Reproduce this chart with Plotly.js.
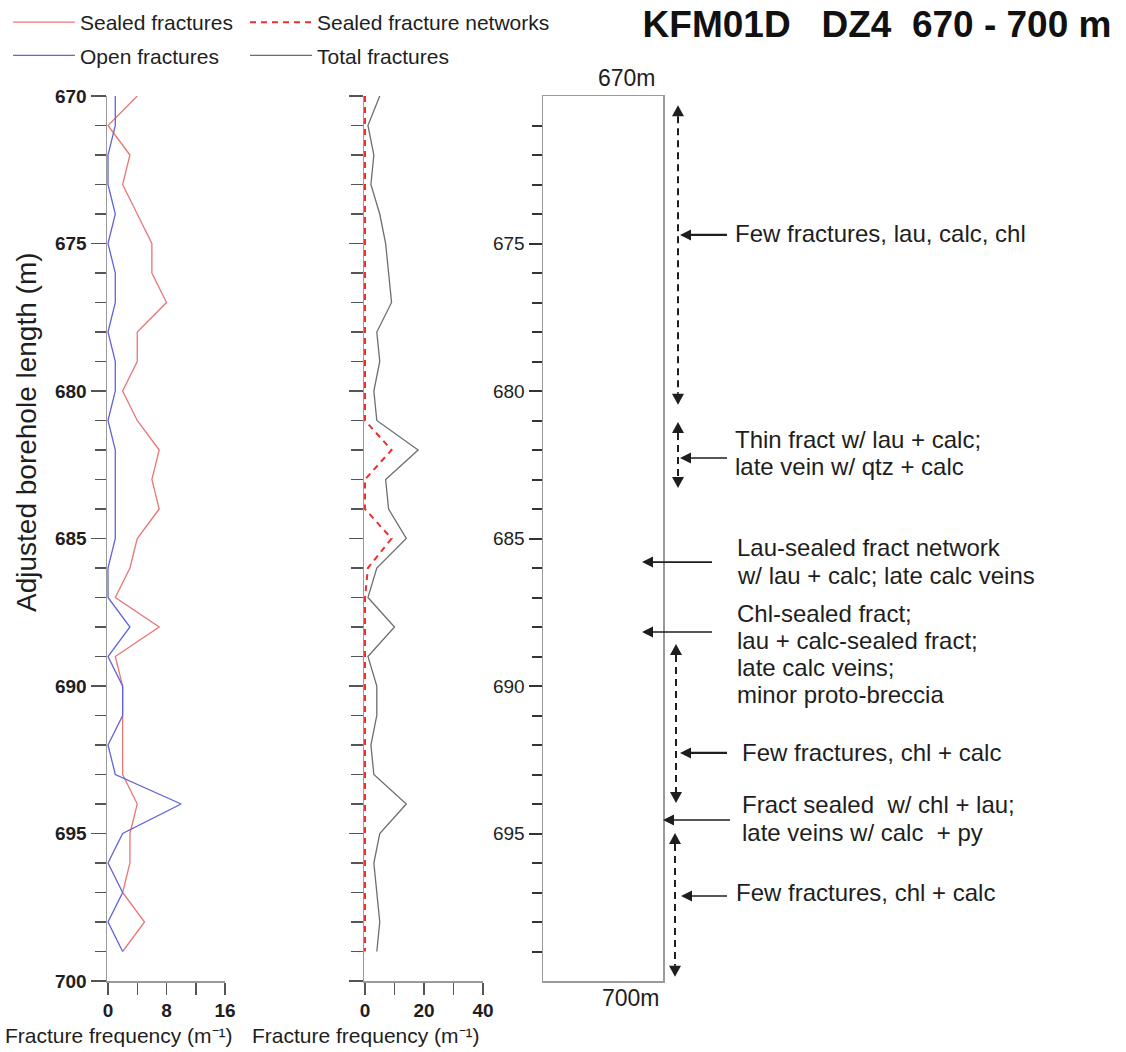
<!DOCTYPE html>
<html><head><meta charset="utf-8">
<script src="https://cdn.plot.ly/plotly-3.0.1.min.js"></script>
<style>html,body{margin:0;padding:0;background:#fff}#chart{width:1126px;height:1052px}</style>
</head><body><div id="chart"></div>
<script>
// ---- data ----
const depths = [670,671,672,673,674,675,676,677,678,679,680,681,682,683,684,685,686,687,688,689,690,691,692,693,694,695,696,697,698,699];
const sealedFractures = [4,0,3,2,4,6,6,8,4,4,2,4,7,6,7,4,3,1,7,1,2,2,2,2,4,3,3,2,5,2];
const openFractures   = [1,1,0,0,1,0,1,1,0,1,1,0,1,1,1,1,0,0,3,0,2,2,0,1,10,2,0,2,0,2];
const sealedNetworks  = [0,0,0,0,0,0,0,0,0,0,0,0,9,0,0,9,1,0,0,0,0,0,0,0,0,0,0,0,0,0];
const totalFractures  = [5,1,3,2,5,7,8,9,4,5,3,4,18,7,8,14,4,1,10,1,4,4,2,3,14,5,3,4,5,4];

const leftTickVals = [0,8,16];
const leftMinorTicks = [4,12];
const midTickVals = [0,20,40];
const midMinorTicks = [10,30];
const logTickVals = [675,680,685,690,695];

// interpretation column: one entry per printed line
const noteLines = [
  'Few fractures, lau, calc, chl',
  'Thin fract w/ lau + calc;', 'late vein w/ qtz + calc',
  'Lau-sealed fract network', 'w/ lau + calc; late calc veins',
  'Chl-sealed fract;', 'lau + calc-sealed fract;', 'late calc veins;', 'minor proto-breccia',
  'Few fractures, chl + calc',
  'Fract sealed\u00a0 w/ chl + lau;', 'late veins w/ calc\u00a0 + py',
  'Few fractures, chl + calc'
];
const noteLineDepths = [674.65, 681.65, 682.57, 685.32, 686.24, 687.54, 688.45, 689.37, 690.29,
                        692.24, 694.03, 694.95, 696.99];
const noteLineX = [735, 735, 735, 737, 737, 737, 737, 737, 737, 742, 742, 742, 736];
// pointer arrows (depth they point at)
const arrowDepths = [674.71, 682.27, 685.80, 688.17, 692.27, 694.54, 697.12];
// dashed depth-interval arrows
const rangeTops    = [670.31, 681.05, 688.58, 694.98];
const rangeBottoms = [680.47, 683.29, 693.97, 699.86];

// ---- layout helpers (pixel -> paper) ----
const W = 1126, H = 1052;
const PX = p => p / W;
const PY = p => 1 - p / H;
const yDom = [PY(981), PY(96)];
const PX_PER_M = 885 / 30;
const FONT = 'Liberation Sans, Arial, sans-serif';
const INK = '#1e1e1e';

const traces = [
  {x: sealedFractures, y: depths, xaxis:'x', yaxis:'y', type:'scatter', mode:'lines',
   name:'Sealed fractures', legend:'legend', legendgroup:'a', line:{color:'rgb(232,118,118)', width:1.3}},
  {x: openFractures, y: depths, xaxis:'x', yaxis:'y', type:'scatter', mode:'lines',
   name:'Open fractures', legend:'legend', legendgroup:'b', line:{color:'rgb(98,98,222)', width:1.3}},
  {x: sealedNetworks, y: depths, xaxis:'x2', yaxis:'y2', type:'scatter', mode:'lines',
   name:'Sealed fracture networks', legend:'legend2', legendgroup:'c', line:{color:'rgb(236,48,44)', width:2, dash:'6px,5px'}},
  {x: totalFractures, y: depths, xaxis:'x2', yaxis:'y2', type:'scatter', mode:'lines',
   name:'Total fractures', legend:'legend2', legendgroup:'d', line:{color:'#6e6e6e', width:1.3}},
  {x: [], y: [], xaxis:'x3', yaxis:'y3', type:'scatter', mode:'lines', showlegend:false, hoverinfo:'skip'}
];

const depthAxisBase = {
  range:[700,670], autorange:false, showgrid:false, zeroline:false,
  showline:true, linecolor:'#9a9a9a', linewidth:1.5, layer:'below traces',
  ticks:'outside', tickcolor:'#555', tickwidth:1.5
};
const freqAxisBase = {
  autorange:false, showgrid:false, zeroline:false, showline:true,
  linecolor:'#9a9a9a', linewidth:1.5, ticks:'outside', ticklen:12, layer:'below traces',
  tickcolor:'#555', tickwidth:1.5, tickmode:'array',
  tickfont:{family:FONT, size:19, color:INK, weight:700}
};

const minorLog = [];
for (let d = 671; d < 700; d++) if (d % 5 !== 0) minorLog.push(d);

const legendBase = {orientation:'v', xanchor:'left', yanchor:'top', tracegroupgap:3,
  font:{family:FONT, size:21, color:INK}, itemwidth:62, bgcolor:'rgba(0,0,0,0)', borderwidth:0};

// the axes start one pixel left of zero so that lines lying on zero are not clipped
const leftPxPerUnit = 117 / 16, midPxPerUnit = 118 / 40;

const layout = {
  width: W, height: H,
  margin:{l:0, r:0, t:0, b:0},
  paper_bgcolor:'#fff', plot_bgcolor:'rgba(0,0,0,0)',
  font:{family:FONT, color:INK},
  title:{text:'KFM01D\u00a0\u00a0\u00a0DZ4\u00a0\u00a0670 - 700 m', x:PX(877), xanchor:'center',
         y:PY(24), yanchor:'middle', font:{family:FONT, size:37, color:'#111', weight:700}},
  showlegend:true,
  legend: Object.assign({}, legendBase, {x:PX(8), y:PY(2)}),
  legend2: Object.assign({}, legendBase, {x:PX(245), y:PY(2)}),
  xaxis: Object.assign({}, freqAxisBase, {domain:[PX(107), PX(225)], range:[-1 / leftPxPerUnit, 16], anchor:'y',
          tickvals:leftTickVals,
          minor:{tickmode:'array', tickvals:leftMinorTicks, ticks:'outside', ticklen:12, tickcolor:'#555', tickwidth:1.5}}),
  yaxis: Object.assign({}, depthAxisBase, {domain:yDom, anchor:'x', tick0:670, dtick:5, ticklen:15,
          tickfont:{family:FONT, size:19, color:INK, weight:700},
          minor:{dtick:1, tick0:670, ticks:'outside', ticklen:11, tickcolor:'#555', tickwidth:1.5}}),
  xaxis2: Object.assign({}, freqAxisBase, {domain:[PX(364), PX(483)], range:[-1 / midPxPerUnit, 40], anchor:'y2',
          tickvals:midTickVals,
          minor:{tickmode:'array', tickvals:midMinorTicks, ticks:'outside', ticklen:12, tickcolor:'#555', tickwidth:1.5}}),
  yaxis2: Object.assign({}, depthAxisBase, {domain:yDom, anchor:'x2', tick0:670, dtick:5, ticklen:14,
          showticklabels:false,
          minor:{dtick:1, tick0:670, ticks:'outside', ticklen:12, tickcolor:'#555', tickwidth:1.5}}),
  xaxis3: {domain:[PX(543), PX(663)], range:[0,1], anchor:'y3', showgrid:false, zeroline:false,
          showline:true, mirror:true, linecolor:'#9a9a9a', linewidth:1.5, ticks:'', showticklabels:false},
  yaxis3: {domain:yDom, anchor:'x3', range:[700,670], autorange:false, showgrid:false, zeroline:false,
          showline:true, mirror:true, linecolor:'#9a9a9a', linewidth:1.5,
          tickmode:'array', tickvals:logTickVals, ticks:'outside', ticklen:13, tickwidth:2, tickcolor:'#333',
          tickfont:{family:FONT, size:19, color:INK},
          minor:{tickmode:'array', tickvals:minorLog, ticks:'outside', ticklen:10, tickwidth:2, tickcolor:'#333'}},
  annotations: [],
  shapes: []
};

const ann = layout.annotations;
// axis titles
const freqTitle = 'Fracture frequency (m\u207B\u00B9)';
ann.push({text:freqTitle, xref:'paper', yref:'paper', x:PX(119), y:PY(1035),
          xanchor:'center', yanchor:'middle', showarrow:false, font:{family:FONT, size:21, color:INK}});
ann.push({text:freqTitle, xref:'paper', yref:'paper', x:PX(366), y:PY(1035),
          xanchor:'center', yanchor:'middle', showarrow:false, font:{family:FONT, size:21, color:INK}});
ann.push({text:'Adjusted borehole length (m)', xref:'paper', yref:'paper', x:PX(27), y:PY(432),
          textangle:-90, xanchor:'center', yanchor:'middle', showarrow:false, font:{family:FONT, size:28, color:INK}});
ann.push({text:'670m', xref:'paper', yref:'paper', x:PX(627), y:PY(78), xanchor:'center', yanchor:'middle',
          showarrow:false, font:{family:FONT, size:23, color:INK}});
ann.push({text:'700m', xref:'paper', yref:'paper', x:PX(631), y:PY(998), xanchor:'center', yanchor:'middle',
          showarrow:false, font:{family:FONT, size:23, color:INK}});

// interpretation text lines
noteLines.forEach((t, i) => {
  ann.push({text:t, xref:'paper', yref:'y3', x:PX(noteLineX[i] - 2), y:noteLineDepths[i], xanchor:'left', yanchor:'middle',
            align:'left', showarrow:false, font:{family:FONT, size:24, color:INK}});
});

// solid pointer arrows (line + filled head pointing left)
const arrowHeadX = [680, 680, 642, 642, 680, 663, 681];
const arrowTailX = [727, 727, 712, 712, 727, 730, 727];
const arrowW     = [2.2, 1.6, 1.6, 1.6, 2.2, 1.6, 1.6];
const HL = 11, HW = 5.5;
arrowDepths.forEach((d, i) => {
  const xh = arrowHeadX[i], dh = HW / PX_PER_M;
  layout.shapes.push({type:'line', xref:'paper', yref:'y3', x0:PX(xh + HL - 1), x1:PX(arrowTailX[i]), y0:d, y1:d,
                      line:{color:INK, width:arrowW[i]}});
  layout.shapes.push({type:'path', xref:'paper', yref:'y3',
    path:`M${PX(xh)},${d} L${PX(xh + HL)},${d - dh} L${PX(xh + HL)},${d + dh} Z`, fillcolor:INK, line:{width:0}});
});

// dashed double-headed depth-interval arrows
const rangeX = [678, 678, 676, 675];
const headLen = 11 / PX_PER_M, headHalf = 6;
rangeTops.forEach((top, i) => {
  const bot = rangeBottoms[i], x = PX(rangeX[i]);
  layout.shapes.push({type:'line', xref:'paper', yref:'y3', x0:x, x1:x, y0:top + headLen, y1:bot - headLen,
                      line:{color:INK, width:2, dash:'7px,5px'}});
  const xl = PX(rangeX[i] - headHalf), xr = PX(rangeX[i] + headHalf);
  layout.shapes.push({type:'path', xref:'paper', yref:'y3',
    path:`M${xl},${top + headLen} L${x},${top} L${xr},${top + headLen} Z`, fillcolor:INK, line:{width:0}});
  layout.shapes.push({type:'path', xref:'paper', yref:'y3',
    path:`M${xl},${bot - headLen} L${x},${bot} L${xr},${bot - headLen} Z`, fillcolor:INK, line:{width:0}});
});

Plotly.newPlot('chart', traces, layout, {displayModeBar:false, staticPlot:true});
</script>
</body></html>
